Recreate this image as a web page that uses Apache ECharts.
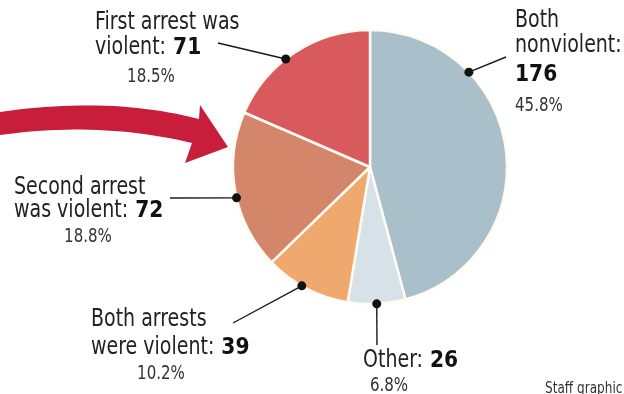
<!DOCTYPE html>
<html>
<head>
<meta charset="utf-8">
<script src="https://cdn.jsdelivr.net/npm/echarts@6/dist/echarts.min.js"></script>
<style>
html,body{margin:0;padding:0;background:#fff;}
#c{width:624px;height:394px;}
</style>
</head>
<body>
<div id="c"></div>
<script>
// ---- data ----
const categories = ['Both nonviolent', 'Other', 'Both arrests were violent', 'Second arrest was violent', 'First arrest was violent'];
const counts = [176, 26, 39, 72, 71];
const percents = ['45.8%', '6.8%', '10.2%', '18.8%', '18.5%'];
const labelText = [['Both', 'nonviolent:'], ['Other:'], ['Both arrests', 'were violent:'], ['Second arrest', 'was violent:'], ['First arrest was', 'violent:']];
const creditText = 'Staff graphic';

// ---- style / layout ----
const colors = ['#a9bfc9', '#d7e2e8', '#efa96f', '#d4866a', '#d85a5d'];
const center = [370, 167];
const radius = 137;
const FONT = "'Liberation Sans Narrow', 'DejaVu Sans Condensed', 'Liberation Sans', sans-serif";
const NUMFONT = "'DejaVu Sans', 'Liberation Sans', sans-serif";
const SX = 0.88;   // horizontal squeeze to mimic the condensed newspaper face
const DESC = 5;    // baseline -> bottom of text box
const layout = [
  { x: 515, lines: [28, 53], numOwn: 82, pct: [515, 112, 'left'], anchor: 0.28, lineEnd: [506, 57] },
  { x: 363, lines: [368], pct: [389, 392, 'center'], anchor: 0.5, lineEnd: [377, 345] },
  { x: 91, lines: [327, 355], pct: [161, 380, 'center'], anchor: 0.56, lineEnd: [233, 323] },
  { x: 14, lines: [195, 218], pct: [88, 243, 'center'], anchor: 0.46, lineEnd: [170, 198] },
  { x: 95, lines: [30, 55], pct: [151, 83, 'center'], anchor: 0.43, lineEnd: [218, 43] }
];

const total = counts.reduce((a, b) => a + b, 0);
const graphics = [];

// arrow outline (decorative)
function quad(p0, c, p1, n) {
  const pts = [];
  for (let k = 0; k <= n; k++) {
    const t = k / n, u = 1 - t;
    pts.push([u * u * p0[0] + 2 * u * t * c[0] + t * t * p1[0], u * u * p0[1] + 2 * u * t * c[1] + t * t * p1[1]]);
  }
  return pts;
}
const arrowPts = []
  .concat(quad([0, 112], [110, 96], [199, 119], 24))
  .concat([[200, 105], [228, 147], [185, 163]])
  .concat(quad([192, 143], [100, 121], [0, 135], 24));
graphics.push({ type: 'polygon', silent: true, z: 5, shape: { points: arrowPts }, style: { fill: '#c81d3b' } });

let cum = 0;
counts.forEach((v, i) => {
  const L = layout[i];
  const theta = (cum + L.anchor * v) / total * 2 * Math.PI;
  cum += v;
  const dx = center[0] + radius * Math.sin(theta);
  const dy = center[1] - radius * Math.cos(theta);
  graphics.push({ type: 'line', silent: true, z: 20,
    shape: { x1: dx, y1: dy, x2: L.lineEnd[0], y2: L.lineEnd[1] },
    style: { stroke: '#1a1a1a', lineWidth: 1.4 } });
  graphics.push({ type: 'circle', silent: true, z: 21,
    shape: { cx: dx, cy: dy, r: 4.5 }, style: { fill: '#111' } });

  const lines = labelText[i];
  lines.forEach((t, j) => {
    const last = j === lines.length - 1;
    let txt = '{t|' + t + '}';
    if (last && L.numOwn === undefined) txt += '{b| ' + counts[i] + '}';
    graphics.push({ type: 'text', silent: true, z: 20, x: L.x, y: L.lines[j] + DESC, scaleX: SX,
      style: { text: txt, align: 'left', verticalAlign: 'bottom',
        rich: {
          t: { fontFamily: FONT, fontSize: 24, fill: '#222', lineHeight: 24, verticalAlign: 'bottom' },
          b: { fontFamily: NUMFONT, fontWeight: 'bold', fontSize: 23, fill: '#111', lineHeight: 24, verticalAlign: 'bottom' }
        } } });
  });
  if (L.numOwn !== undefined) {
    graphics.push({ type: 'text', silent: true, z: 20, x: L.x, y: L.numOwn + DESC, scaleX: SX,
      style: { text: String(counts[i]), fontFamily: NUMFONT, fontWeight: 'bold', fontSize: 23, fill: '#111',
        align: 'left', verticalAlign: 'bottom' } });
  }
  graphics.push({ type: 'text', silent: true, z: 20, x: L.pct[0], y: L.pct[1] + 4, scaleX: SX,
    style: { text: percents[i], fontFamily: FONT, fontSize: 19, fill: '#333',
      align: L.pct[2], verticalAlign: 'bottom' } });
});

graphics.push({ type: 'text', silent: true, z: 20, x: 545, y: 397, scaleX: 0.84,
  style: { text: creditText, fontFamily: FONT, fontSize: 16, fill: '#333', align: 'left', verticalAlign: 'bottom' } });

const chart = echarts.init(document.getElementById('c'), null, { renderer: 'canvas' });
chart.setOption({
  animation: false,
  backgroundColor: '#fff',
  series: [{
    type: 'pie',
    center: center,
    radius: radius,
    startAngle: 90,
    clockwise: true,
    silent: true,
    label: { show: false },
    labelLine: { show: false },
    itemStyle: { borderColor: '#fffaf2', borderWidth: 2.5 },
    data: categories.map((n, i) => ({ name: n, value: counts[i], itemStyle: { color: colors[i] } }))
  }],
  graphic: graphics
});
</script>
</body>
</html>
